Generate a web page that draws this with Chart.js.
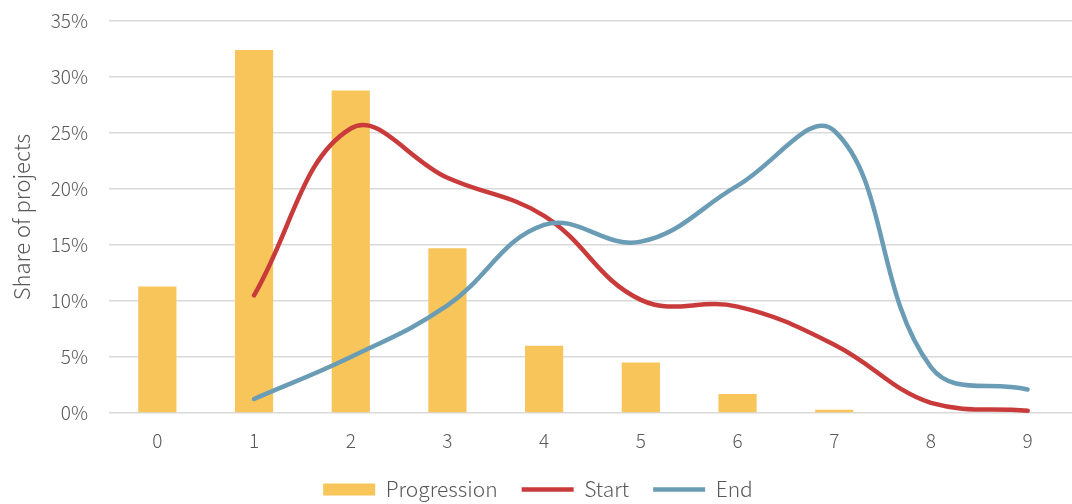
<!DOCTYPE html>
<html>
<head>
<meta charset="utf-8">
<script src="https://cdn.jsdelivr.net/npm/chart.js@4/dist/chart.umd.min.js"></script>
<style>
  html, body { margin: 0; padding: 0; background: #ffffff; overflow: hidden; }
  #wrap { width: 1076px; height: 504px; position: relative; }
</style>
</head>
<body>
<div id="wrap"><canvas id="chart"></canvas></div>
<script>
// Number of progression steps
const categories = ['0', '1', '2', '3', '4', '5', '6', '7', '8', '9'];

// Share of projects (%) for each step
const progression = [11.3, 32.4, 28.8, 14.7, 6.0, 4.5, 1.7, 0.3, 0, 0];
const start = [null, 10.5, 25.4, 21.0, 17.6, 10.1, 9.5, 6.1, 0.9, 0.2];
const end = [null, 1.25, 5.0, 9.6, 16.8, 15.3, 20.3, 25.2, 4.1, 2.1];

// Y axis ticks (%)
const yTicks = [0, 5, 10, 15, 20, 25, 30, 35];

const textColor = '#595959';
const gridColor = '#D9D9D9';
const fontFamily = '"Noto Sans CJK JP", "Noto Sans", sans-serif';

new Chart(document.getElementById('chart'), {
  data: {
    labels: categories,
    datasets: [
      {
        type: 'bar',
        label: 'Progression',
        data: progression,
        backgroundColor: '#F7C55A',
        borderWidth: 0,
        barPercentage: 0.395,
        categoryPercentage: 1.0,
        order: 2,
        pointStyle: 'rect'
      },
      {
        type: 'line',
        label: 'Start',
        data: start,
        borderColor: '#C83B3A',
        backgroundColor: '#C83B3A',
        borderWidth: 4.5,
        borderCapStyle: 'round',
        borderJoinStyle: 'round',
        tension: 0.4,
        pointRadius: 0,
        pointHoverRadius: 0,
        fill: false,
        order: 1,
        pointStyle: 'line'
      },
      {
        type: 'line',
        label: 'End',
        data: end,
        borderColor: '#6A9DB5',
        backgroundColor: '#6A9DB5',
        borderWidth: 4.5,
        borderCapStyle: 'round',
        borderJoinStyle: 'round',
        tension: 0.4,
        pointRadius: 0,
        pointHoverRadius: 0,
        fill: false,
        order: 0,
        pointStyle: 'line'
      }
    ]
  },
  options: {
    responsive: true,
    maintainAspectRatio: false,
    animation: false,
    layout: { padding: { top: 21, right: 0, bottom: 0, left: 0 } },
    plugins: {
      tooltip: { enabled: false },
      legend: {
        position: 'bottom',
        maxHeight: 49,
        labels: {
          usePointStyle: true,
          pointStyleWidth: 52,
          boxHeight: 12,
          padding: 24,
          color: textColor,
          font: { family: fontFamily, size: 21, weight: 300 },
          sort: (a, b) => a.datasetIndex - b.datasetIndex
        }
      }
    },
    scales: {
      x: {
        type: 'category',
        offset: true,
        afterFit: (scale) => { scale.height = 42; },
        grid: { display: false, drawTicks: false },
        border: { display: false },
        ticks: {
          color: textColor,
          font: { family: fontFamily, size: 19, weight: 300 },
          padding: 16,
          maxRotation: 0
        }
      },
      y: {
        min: 0,
        max: 35,
        afterFit: (scale) => {
          scale.width = 109;
          scale.paddingTop = 11;
          scale.paddingBottom = 0;
        },
        afterBuildTicks: (scale) => { scale.ticks = yTicks.map(v => ({ value: v })); },
        grid: { color: gridColor, lineWidth: 1.5, drawTicks: false },
        border: { display: false },
        ticks: {
          color: textColor,
          font: { family: fontFamily, size: 19, weight: 300 },
          padding: 21,
          callback: (v) => v + '%'
        },
        title: {
          display: true,
          text: 'Share of projects',
          color: textColor,
          font: { family: fontFamily, size: 22, weight: 300 },
          padding: { top: 8, bottom: 0 }
        }
      }
    }
  }
});
</script>
</body>
</html>
